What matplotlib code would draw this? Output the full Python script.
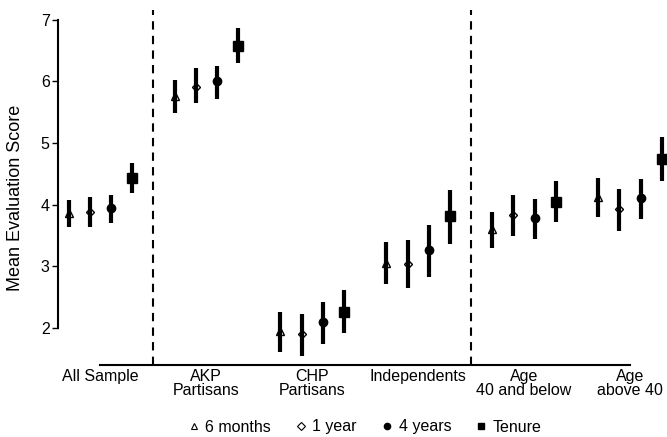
import matplotlib
matplotlib.use("Agg")
import matplotlib.pyplot as plt
import numpy as np

plt.rcParams['font.family'] = ['Liberation Sans', 'DejaVu Sans']

groups = ["All Sample", "AKP\nPartisans", "CHP\nPartisans", "Independents",
          "Age\n40 and below", "Age\nabove 40"]
series = ["6 months", "1 year", "4 years", "Tenure"]

# mean, lower, upper per group
m6 = [3.87, 5.77, 1.95, 3.06, 3.60, 4.13]
m6_lo = [3.64, 5.49, 1.61, 2.71, 3.30, 3.80]
m6_hi = [4.08, 6.03, 2.26, 3.40, 3.88, 4.43]

y1 = [3.88, 5.91, 1.90, 3.04, 3.84, 3.93]
y1_lo = [3.64, 5.65, 1.55, 2.65, 3.49, 3.58]
y1_hi = [4.13, 6.22, 2.23, 3.43, 4.16, 4.26]

y4 = [3.94, 6.00, 2.09, 3.26, 3.78, 4.11]
y4_lo = [3.70, 5.71, 1.74, 2.83, 3.44, 3.77]
y4_hi = [4.16, 6.25, 2.42, 3.67, 4.09, 4.42]

ten = [4.43, 6.58, 2.26, 3.81, 4.05, 4.75]
ten_lo = [4.19, 6.30, 1.92, 3.36, 3.72, 4.39]
ten_hi = [4.68, 6.87, 2.62, 4.24, 4.39, 5.10]

means = [m6, y1, y4, ten]
lows = [m6_lo, y1_lo, y4_lo, ten_lo]
highs = [m6_hi, y1_hi, y4_hi, ten_hi]
markers = [dict(marker="^", ms=6, mfc="white", mec="black", mew=1.0),
           dict(marker="D", ms=4.5, mfc="white", mec="black", mew=1.0),
           dict(marker="o", ms=6, mfc="black", mec="black"),
           dict(marker="s", ms=6.5, mfc="black", mec="black")]

fig = plt.figure(figsize=(6.67, 4.37), dpi=100)
ax = fig.add_axes([58 / 667, 1 - 365 / 437, (667 - 58) / 667, (365 - 10) / 437])

centers = np.arange(len(groups)) * 5
offsets = [-1.5, -0.5, 0.5, 1.5]

for k in range(4):
    x = centers + offsets[k]
    ax.vlines(x, lows[k], highs[k], color="black", lw=3, zorder=3)
    ax.plot(x, means[k], ls="none", color="black", zorder=2, **markers[k])

ax.axvline(2.5, color="black", ls=(0, (4, 3)), lw=1.5)
ax.axvline(17.5, color="black", ls=(0, (4, 3)), lw=1.5)

ax.set_xlim(-2, 26.75)
ax.set_ylim(1.4, 7.16)
ax.set_xticks(centers)
ax.set_xticklabels(groups, fontsize=11.5, linespacing=0.9)
ax.tick_params(axis="x", length=0, pad=3)
ax.set_yticks([2, 3, 4, 5, 6, 7])
ax.tick_params(axis="y", length=4, width=1, labelsize=11.5, pad=2)
ax.set_ylabel("Mean Evaluation Score", fontsize=13)
ax.yaxis.set_label_coords(-0.056, 0.47)

for s in ["top", "right"]:
    ax.spines[s].set_visible(False)
ax.spines["left"].set_bounds(2, 7)
ax.spines["bottom"].set_bounds(0, 25)
ax.spines["left"].set_linewidth(1.5)
ax.spines["bottom"].set_linewidth(1.5)

leg_markers = [dict(marker="^", ms=5, mfc="white", mec="black", mew=0.8),
               dict(marker="D", ms=4, mfc="white", mec="black", mew=0.8),
               dict(marker="o", ms=4.5, mfc="black", mec="black"),
               dict(marker="s", ms=5, mfc="black", mec="black")]
leg_handles = [plt.Line2D([], [], ls="none", color="black", **lm) for lm in leg_markers]
fig.legend(leg_handles, series, loc="center", bbox_to_anchor=(363 / 667, 1 - 427 / 437),
           ncol=4, frameon=False, fontsize=11.5, handletextpad=0.1,
           columnspacing=1.3, handlelength=1.2)

fig.savefig("out.png", dpi=100)
